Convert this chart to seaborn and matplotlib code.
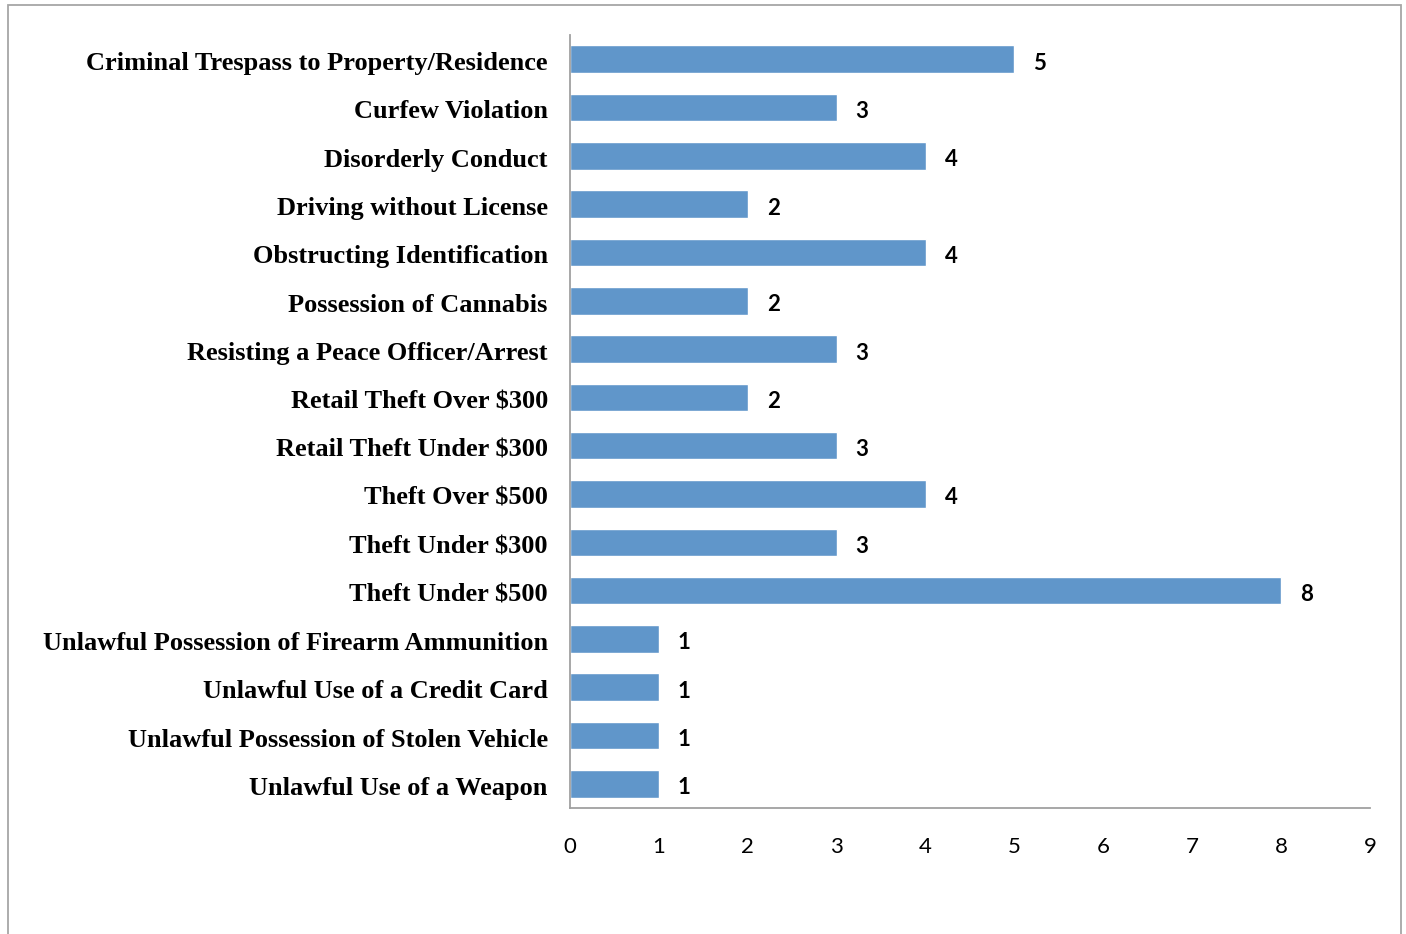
import matplotlib
matplotlib.use("Agg")
import matplotlib.pyplot as plt
import seaborn as sns
import pandas as pd
from matplotlib.patches import Rectangle
from matplotlib.transforms import ScaledTranslation

categories = [
    "Criminal Trespass to Property/Residence",
    "Curfew Violation",
    "Disorderly Conduct",
    "Driving without License",
    "Obstructing Identification",
    "Possession of Cannabis",
    "Resisting a Peace Officer/Arrest",
    "Retail Theft Over $300",
    "Retail Theft Under $300",
    "Theft Over $500",
    "Theft Under $300",
    "Theft Under $500",
    "Unlawful Possession of Firearm Ammunition",
    "Unlawful Use of a Credit Card",
    "Unlawful Possession of Stolen Vehicle",
    "Unlawful Use of a Weapon",
]
values = [5, 3, 4, 2, 4, 2, 3, 2, 3, 4, 3, 8, 1, 1, 1, 1]
x_ticks = [0, 1, 2, 3, 4, 5, 6, 7, 8, 9]

df = pd.DataFrame({"category": categories, "value": values})

sns.set_theme(style="white")
plt.rcParams["text.parse_math"] = False

fig = plt.figure(figsize=(14.06, 9.34), dpi=100)
ax = fig.add_axes([0.4054, 0.1349, 0.569, 0.8276])

sns.barplot(data=df, x="value", y="category", orient="h", color="#6096CA",
            saturation=1, width=0.57, ax=ax)

ax.set_xlim(0, 9)
ax.set_ylim(len(categories) - 0.5, -0.5)
ax.set_xticks(x_ticks)
ax.set_xticklabels([str(t) for t in x_ticks], fontfamily="Lato", fontsize=16, color="black")
ax.set_yticks(range(len(categories)))
ax.set_yticklabels(categories, fontfamily="Liberation Serif", fontweight="bold",
                   fontsize=19, color="black")
ax.tick_params(axis="both", length=0)
ax.tick_params(axis="y", pad=16)
ax.tick_params(axis="x", pad=21)
ax.set_xlabel("")
ax.set_ylabel("")

shift = ScaledTranslation(0, -2 / 100, fig.dpi_scale_trans)
for lbl in ax.get_yticklabels():
    lbl.set_transform(lbl.get_transform() + shift)

for s in ["top", "right"]:
    ax.spines[s].set_visible(False)
for s in ["left", "bottom"]:
    ax.spines[s].set_color("#A0A0A0")
    ax.spines[s].set_linewidth(1.3)

for i, v in enumerate(values):
    ax.annotate(str(v), xy=(v, i), xytext=(19, -2), textcoords="offset pixels",
                ha="left", va="center_baseline", fontfamily="Lato", fontweight="bold",
                fontsize=16, color="black")

fig.patches.append(Rectangle((8 / 1406, -0.05), (1401 - 8) / 1406, 1.05 - 5 / 934,
                             transform=fig.transFigure, fill=False,
                             edgecolor="#A6A6A6", linewidth=1.3))

fig.savefig("out.png", dpi=100)
